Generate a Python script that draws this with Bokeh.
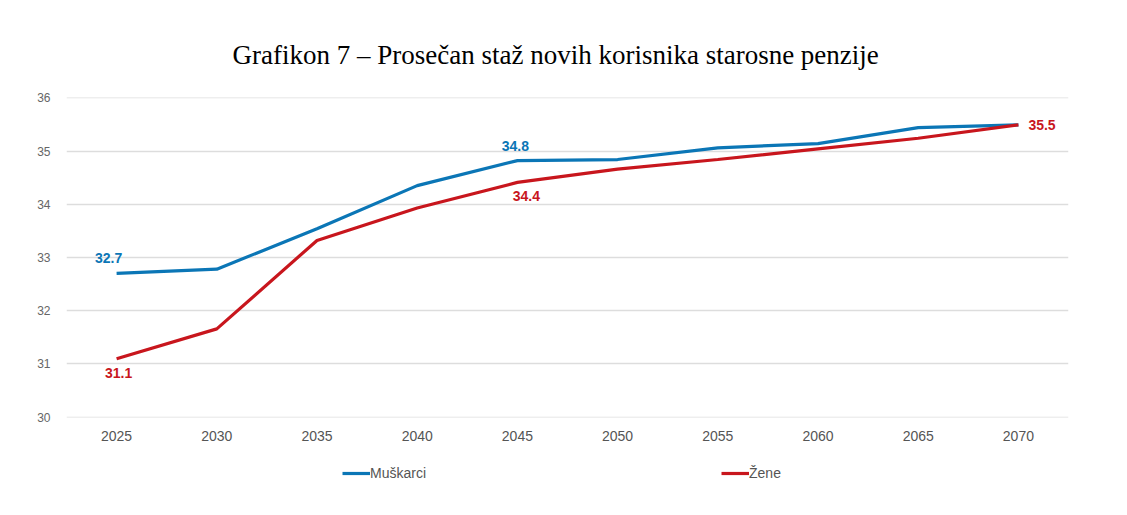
from bokeh.plotting import figure
from bokeh.layouts import column
from bokeh.models import FactorRange, Range1d, FixedTicker, Legend, LegendItem, ColumnDataSource
from bokeh.core.properties import value
from bokeh.embed import file_html
from bokeh.resources import INLINE

years = ["2025", "2030", "2035", "2040", "2045", "2050", "2055", "2060", "2065", "2070"]
muskarci = [32.7, 32.78, 33.54, 34.35, 34.82, 34.84, 35.06, 35.14, 35.44, 35.49]
zene = [31.1, 31.66, 33.32, 33.93, 34.41, 34.66, 34.84, 35.04, 35.24, 35.49]
y_ticks = [30, 31, 32, 33, 34, 35, 36]
series_names = ["Muškarci", "Žene"]
title_text = "Grafikon 7 – Prosečan staž novih korisnika starosne penzije"

BLUE = "#0b76b6"
RED = "#c8161d"

p = figure(
    x_range=FactorRange(factors=years),
    y_range=Range1d(29.995, 36.005),
    frame_width=1002, frame_height=320,
    min_border_left=66, min_border_right=50, min_border_top=97, min_border_bottom=40,
    output_backend="svg", toolbar_location=None,
)
p.outline_line_color = None
p.background_fill_color = "white"

p.title.text = title_text
p.title.text_font = "Liberation Serif"
p.title.text_font_size = "27px"
p.title.text_font_style = "normal"
p.title.text_color = "#000000"
p.title.align = "left"
p.title.offset = 166
p.title.standoff = 55

p.xgrid.grid_line_color = None
p.ygrid.grid_line_color = "#dddddd"
p.ygrid.grid_line_width = 1.3

p.yaxis.ticker = FixedTicker(ticks=y_ticks)
p.yaxis.axis_line_color = None
p.yaxis.major_tick_line_color = None
p.yaxis.minor_tick_line_color = None
p.yaxis.major_label_text_font = "Liberation Sans"
p.yaxis.major_label_text_font_size = "12px"
p.yaxis.major_label_text_color = "#666666"
p.yaxis.major_label_standoff = 10

p.xaxis.axis_line_color = None
p.xaxis.major_tick_line_color = None
p.xaxis.minor_tick_line_color = None
p.xaxis.major_label_text_font = "Liberation Sans"
p.xaxis.major_label_text_font_size = "14px"
p.xaxis.major_label_text_color = "#555555"
p.xaxis.major_label_standoff = 7

src = ColumnDataSource(dict(x=years, m=muskarci, z=zene))
lm = p.line("x", "m", source=src, line_color=BLUE, line_width=3.2)
lz = p.line("x", "z", source=src, line_color=RED, line_width=3.2)

# data labels
lab_m = ColumnDataSource(dict(x=[years[0], years[4]], y=[muskarci[0], muskarci[4]],
                              t=[f"{muskarci[0]:.1f}", f"{muskarci[4]:.1f}"], dx=[-8, -2]))
p.text("x", "y", text="t", source=lab_m, x_offset="dx", y_offset=-10,
       text_align="center", text_baseline="bottom", text_color=BLUE,
       text_font=value("Liberation Sans"), text_font_size="14px", text_font_style="bold")
lab_z = ColumnDataSource(dict(x=[years[0], years[4]], y=[zene[0], zene[4]],
                              t=[f"{zene[0]:.1f}", f"{zene[4]:.1f}"], dx=[2, 9]))
p.text("x", "y", text="t", source=lab_z, x_offset="dx", y_offset=9,
       text_align="center", text_baseline="top", text_color=RED,
       text_font=value("Liberation Sans"), text_font_size="14px", text_font_style="bold")
lab_e = ColumnDataSource(dict(x=[years[-1]], y=[zene[-1]], t=[f"{zene[-1]:.1f}"]))
p.text("x", "y", text="t", source=lab_e, x_offset=10, y_offset=0,
       text_align="left", text_baseline="middle", text_color=RED,
       text_font=value("Liberation Sans"), text_font_size="14px", text_font_style="bold")

# legend strip as a separate figure below the chart
lf = figure(
    x_range=Range1d(0, 1), y_range=Range1d(0, 1),
    width=1118, height=50, min_border=0,
    output_backend="svg", toolbar_location=None,
)
lf.axis.visible = False
lf.grid.visible = False
lf.outline_line_color = None
# legend proxies: lines kept outside the strip's visible range
dm = lf.line(x=[-5, -4], y=[-5, -4], line_color=BLUE, line_width=3.2)
dz = lf.line(x=[-5, -4], y=[-5, -4], line_color=RED, line_width=3.2)

legend = Legend(items=[LegendItem(label=series_names[0], renderers=[dm]),
                       LegendItem(label=series_names[1], renderers=[dz])],
                orientation="horizontal", location=(276, 26))
legend.border_line_color = None
legend.background_fill_alpha = 0
legend.glyph_width = 28
legend.glyph_height = 14
legend.label_standoff = 0
legend.spacing = 295
legend.margin = 0
legend.padding = 4
legend.label_text_font = "Liberation Sans"
legend.label_text_font_size = "14px"
legend.label_text_color = "#555555"
lf.add_layout(legend, "center")

open("out.html", "w").write(file_html(column(p, lf), INLINE))
